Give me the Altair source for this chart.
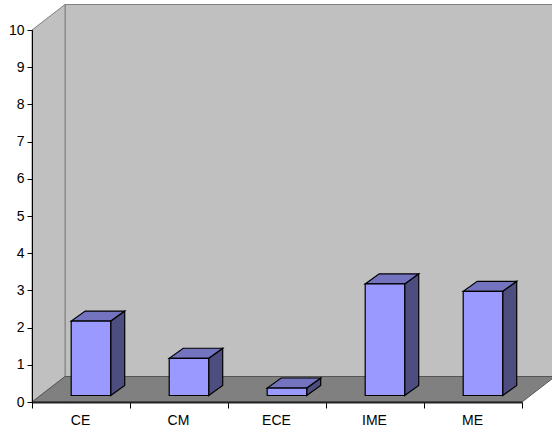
import altair as alt
import pandas as pd

categories = ["CE", "CM", "ECE", "IME", "ME"]
values = [2.0, 1.0, 0.2, 3.0, 2.8]

# Depth of the 3D box and of each column, in axis units
DEPTH_X, DEPTH_Y = 0.337, 0.685
BAR_DX, BAR_DY = 0.143, 0.27
BAR_LEFT, BAR_RIGHT = 0.4, 0.803
BAR_BASE = 0.175
TOP = 10
N = len(categories)

FONT = "Liberation Sans"

x_q = alt.X("x:Q", scale=alt.Scale(domain=[0, N], nice=False, clamp=False), axis=None)
y_q = alt.Y(
    "y:Q",
    stack=None,
    scale=alt.Scale(domain=[0, TOP], nice=False),
    axis=alt.Axis(
        values=list(range(TOP + 1)),
        title=None,
        grid=False,
        zindex=1,
        domainColor="#000000",
        domainWidth=1,
        tickColor="#000000",
        tickSize=5,
        labelColor="#000000",
        labelFont=FONT,
        labelFontSize=14,
        labelPadding=3,
    ),
)
y2_q = alt.Y2("y2:Q")


def poly(rows, fill, stroke, width, detail=False):
    enc = dict(x=x_q, y=y_q, y2=y2_q)
    if detail:
        enc["detail"] = "k:N"
    return (
        alt.Chart(pd.DataFrame(rows))
        .mark_area(fill=fill, stroke=stroke, strokeWidth=width, clip=False, interpolate="linear")
        .encode(**enc)
    )


wall = alt.Chart(
    pd.DataFrame([dict(x=DEPTH_X, x2=N + DEPTH_X, y=DEPTH_Y, y2=TOP + DEPTH_Y)])
).mark_rect(fill="#C0C0C0", stroke="#808080", strokeWidth=1, clip=False).encode(
    x=x_q, x2="x2:Q", y=y_q, y2=y2_q
)

side_wall = poly(
    [
        dict(x=0, y=0, y2=TOP),
        dict(x=DEPTH_X, y=DEPTH_Y, y2=TOP + DEPTH_Y),
    ],
    "#C0C0C0", "#808080", 1,
)

floor = poly(
    [
        dict(x=0, y=0, y2=0),
        dict(x=DEPTH_X, y=0, y2=DEPTH_Y),
        dict(x=N, y=0, y2=DEPTH_Y),
        dict(x=N + DEPTH_X, y=DEPTH_Y, y2=DEPTH_Y),
    ],
    "#808080", "#555555", 1,
)

front_rows, top_rows, side_rows = [], [], []
for i, v in enumerate(values):
    a, b = i + BAR_LEFT, i + BAR_RIGHT
    t = BAR_BASE + v
    front_rows.append(dict(x=a, x2=b, y=BAR_BASE, y2=t))
    top_rows += [
        dict(k=i, x=a, y=t, y2=t),
        dict(k=i, x=a + BAR_DX, y=t, y2=t + BAR_DY),
        dict(k=i, x=b, y=t, y2=t + BAR_DY),
        dict(k=i, x=b + BAR_DX, y=t + BAR_DY, y2=t + BAR_DY),
    ]
    side_rows += [
        dict(k=i, x=b, y=BAR_BASE, y2=t),
        dict(k=i, x=b + BAR_DX, y=BAR_BASE + BAR_DY, y2=t + BAR_DY),
    ]

side_faces = poly(side_rows, "#4D4D80", "#000000", 1.2, detail=True)
top_faces = poly(top_rows, "#7373BF", "#000000", 1.2, detail=True)
front_faces = alt.Chart(pd.DataFrame(front_rows)).mark_rect(
    fill="#9999FF", stroke="#000000", strokeWidth=1.2, clip=False
).encode(x=x_q, x2="x2:Q", y=y_q, y2=y2_q)

# Band scale that carries the category axis
category_axis = alt.Chart(pd.DataFrame({"category": categories})).mark_point(opacity=0).encode(
    x=alt.X(
        "category:N",
        sort=categories,
        scale=alt.Scale(type="band", paddingInner=0, paddingOuter=0),
        axis=alt.Axis(
            title=None,
            tickBand="extent",
            labelAngle=0,
            labelOffset=-1,
            zindex=1,
            grid=False,
            domainColor="#222222",
            domainWidth=2,
            tickColor="#000000",
            tickSize=6,
            labelColor="#000000",
            labelFont=FONT,
            labelFontSize=14,
            labelPadding=5,
        ),
    ),
    y=alt.value(372),
)

chart = (
    alt.layer(wall, side_wall, floor, side_faces, top_faces, front_faces, category_axis)
    .resolve_scale(x="independent")
    .properties(
        width=490,
        height=372,
        padding={"left": 32, "top": 30, "right": 30, "bottom": 29},
        autosize=alt.AutoSizeParams(type="none"),
        background="#FFFFFF",
    )
    .configure_view(stroke=None)
)

chart.save("out.html", embed_options={"renderer": "svg", "actions": False})
